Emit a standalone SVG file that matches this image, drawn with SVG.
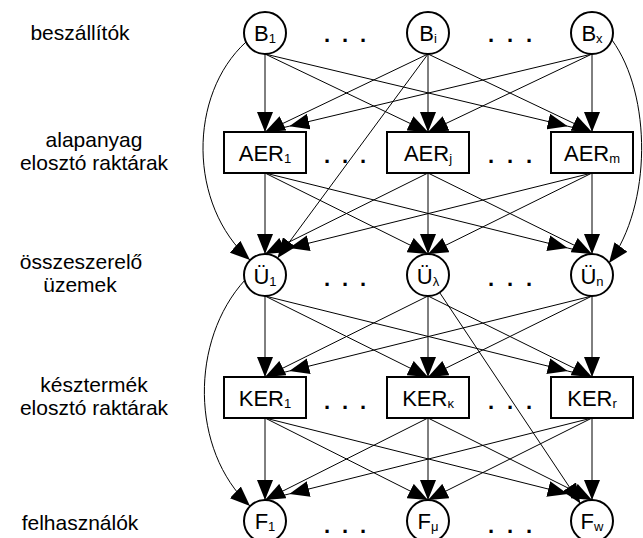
<svg xmlns="http://www.w3.org/2000/svg" width="643" height="538" viewBox="0 0 643 538">
  <style>
    .n circle, .n rect { fill: #fff; stroke: #000; stroke-width: 2; }
    .lbl { font-family: "Liberation Sans", Arial, sans-serif; font-size: 22px; text-anchor: middle; fill: #000; }
    .sub { font-size: 13px; }
    .side { font-family: "Liberation Sans", Arial, sans-serif; font-size: 21px; text-anchor: middle; fill: #000; }
    .dots { font-family: "Liberation Sans", Arial, sans-serif; font-size: 22px; font-weight: bold; text-anchor: middle; fill: #000; }
    .e { fill: none; stroke: #000; stroke-width: 1; marker-end: url(#ah); }
    .l { fill: none; stroke: #000; stroke-width: 1; marker-mid: url(#ah); }
  </style>
  <defs>
    <marker id="ah" markerUnits="userSpaceOnUse" markerWidth="20" markerHeight="16" viewBox="0 0 20 16" refX="20" refY="8" orient="auto">
      <path d="M0,0 L20,8 L0,16 z" fill="#000"/>
    </marker>
  </defs>

  <!-- row captions -->
  <g id="captions">
    <text class="side" x="80" y="40">beszállítók</text>
    <text class="side" x="94" y="147">alapanyag</text>
    <text class="side" x="94" y="170">elosztó raktárak</text>
    <text class="side" x="81" y="269">összeszerelő</text>
    <text class="side" x="80" y="292">üzemek</text>
    <text class="side" x="94" y="392">késztermék</text>
    <text class="side" x="94" y="415">elosztó raktárak</text>
    <text class="side" x="80" y="530">felhasználók</text>
  </g>

  <!-- connectors -->
  <g id="connectors">
    <!-- B -> AER -->
    <path class="e" d="M265,54 L265,132"/>
    <path class="e" d="M265,54 L428,132"/>
    <path class="l" d="M265,54 L567.7,126.2 L592,132"/>
    <path class="e" d="M428,54 L265,132"/>
    <path class="e" d="M428,54 L428,132"/>
    <path class="e" d="M428,54 L592,132"/>
    <path class="l" d="M592,54 L289.3,126.2 L265,132"/>
    <path class="e" d="M592,54 L428,132"/>
    <path class="e" d="M592,54 L592,132"/>
    <!-- AER -> Ü -->
    <path class="e" d="M265,173 L265,254"/>
    <path class="e" d="M265,173 L428,254"/>
    <path class="l" d="M265,173 L567.7,248 L592,254"/>
    <path class="e" d="M428,173 L265,254"/>
    <path class="e" d="M428,173 L428,254"/>
    <path class="e" d="M428,173 L592,254"/>
    <path class="l" d="M592,173 L289.3,248 L265,254"/>
    <path class="e" d="M592,173 L428,254"/>
    <path class="e" d="M592,173 L592,254"/>
    <!-- Ü -> KER -->
    <path class="e" d="M265,296 L265,377"/>
    <path class="e" d="M265,296 L428,377"/>
    <path class="l" d="M265,296 L567.7,371 L592,377"/>
    <path class="e" d="M428,296 L265,377"/>
    <path class="e" d="M428,296 L428,377"/>
    <path class="e" d="M428,296 L592,377"/>
    <path class="l" d="M592,296 L289.3,371 L265,377"/>
    <path class="e" d="M592,296 L428,377"/>
    <path class="e" d="M592,296 L592,377"/>
    <!-- KER -> F -->
    <path class="e" d="M265,418 L265,500"/>
    <path class="e" d="M265,418 L428,500"/>
    <path class="l" d="M265,418 L567.7,493.9 L592,500"/>
    <path class="e" d="M428,418 L265,500"/>
    <path class="e" d="M428,418 L428,500"/>
    <path class="e" d="M428,418 L592,500"/>
    <path class="l" d="M592,418 L289.3,493.9 L265,500"/>
    <path class="e" d="M592,418 L428,500"/>
    <path class="e" d="M592,418 L592,500"/>
    <!-- skip-level links -->
    <path class="e" d="M246,42 C188,95 188,205 250,260"/>
    <path class="e" d="M612,40 C652,95 652,205 609,263"/>
    <path class="e" d="M428,54 L277.5,258.1"/>
    <path class="e" d="M245,280 C190,340 190,450 250,506"/>
    <path class="e" d="M439.6,292.5 L580.4,503.5"/>
  </g>

  <!-- suppliers -->
  <g id="B1" class="n"><circle cx="265" cy="33" r="21"/><text class="lbl" x="265" y="41">B<tspan class="sub" dy="2">1</tspan></text></g>
  <g id="Bi" class="n"><circle cx="428" cy="33" r="21"/><text class="lbl" x="428" y="41">B<tspan class="sub" dy="2">i</tspan></text></g>
  <g id="Bx" class="n"><circle cx="592" cy="33" r="21"/><text class="lbl" x="592" y="41">B<tspan class="sub" dy="2">x</tspan></text></g>
  <text class="dots" x="327 345 363" y="42">...</text>
  <text class="dots" x="491 510 529" y="42">...</text>

  <!-- raw material warehouses -->
  <g id="AER1" class="n"><rect x="224" y="132" width="82" height="41"/><text class="lbl" x="265" y="160.5">AER<tspan class="sub" dy="2">1</tspan></text></g>
  <g id="AERj" class="n"><rect x="387" y="132" width="82" height="41"/><text class="lbl" x="428" y="160.5">AER<tspan class="sub" dy="2">j</tspan></text></g>
  <g id="AERm" class="n"><rect x="551" y="132" width="82" height="41"/><text class="lbl" x="592" y="160.5">AER<tspan class="sub" dy="2">m</tspan></text></g>
  <text class="dots" x="327 345 363" y="163">...</text>
  <text class="dots" x="491 510 529" y="163">...</text>

  <!-- assembly plants -->
  <g id="U1" class="n"><circle cx="265" cy="275" r="21"/><text class="lbl" x="265" y="283.5">Ü<tspan class="sub" dy="2">1</tspan></text></g>
  <g id="Ul" class="n"><circle cx="428" cy="275" r="21"/><text class="lbl" x="428" y="283.5">Ü<tspan class="sub" dy="2">λ</tspan></text></g>
  <g id="Un" class="n"><circle cx="592" cy="275" r="21"/><text class="lbl" x="592" y="283.5">Ü<tspan class="sub" dy="2">n</tspan></text></g>
  <text class="dots" x="327 345 363" y="286">...</text>
  <text class="dots" x="491 510 529" y="286">...</text>

  <!-- finished goods warehouses -->
  <g id="KER1" class="n"><rect x="224" y="377" width="82" height="41"/><text class="lbl" x="265" y="405.5">KER<tspan class="sub" dy="2">1</tspan></text></g>
  <g id="KERk" class="n"><rect x="387" y="377" width="82" height="41"/><text class="lbl" x="428" y="405.5">KER<tspan class="sub" dy="2">κ</tspan></text></g>
  <g id="KERr" class="n"><rect x="551" y="377" width="82" height="41"/><text class="lbl" x="592" y="405.5">KER<tspan class="sub" dy="2">r</tspan></text></g>
  <text class="dots" x="327 345 363" y="409">...</text>
  <text class="dots" x="491 510 529" y="409">...</text>

  <!-- consumers -->
  <g id="F1" class="n"><circle cx="265" cy="521" r="21"/><text class="lbl" x="265" y="529">F<tspan class="sub" dy="2">1</tspan></text></g>
  <g id="Fm" class="n"><circle cx="428" cy="521" r="21"/><text class="lbl" x="428" y="529">F<tspan class="sub" dy="2">μ</tspan></text></g>
  <g id="Fw" class="n"><circle cx="592" cy="521" r="21"/><text class="lbl" x="592" y="529">F<tspan class="sub" dy="2">w</tspan></text></g>
  <text class="dots" x="327 345 363" y="533">...</text>
  <text class="dots" x="491 510 529" y="533">...</text>
</svg>
